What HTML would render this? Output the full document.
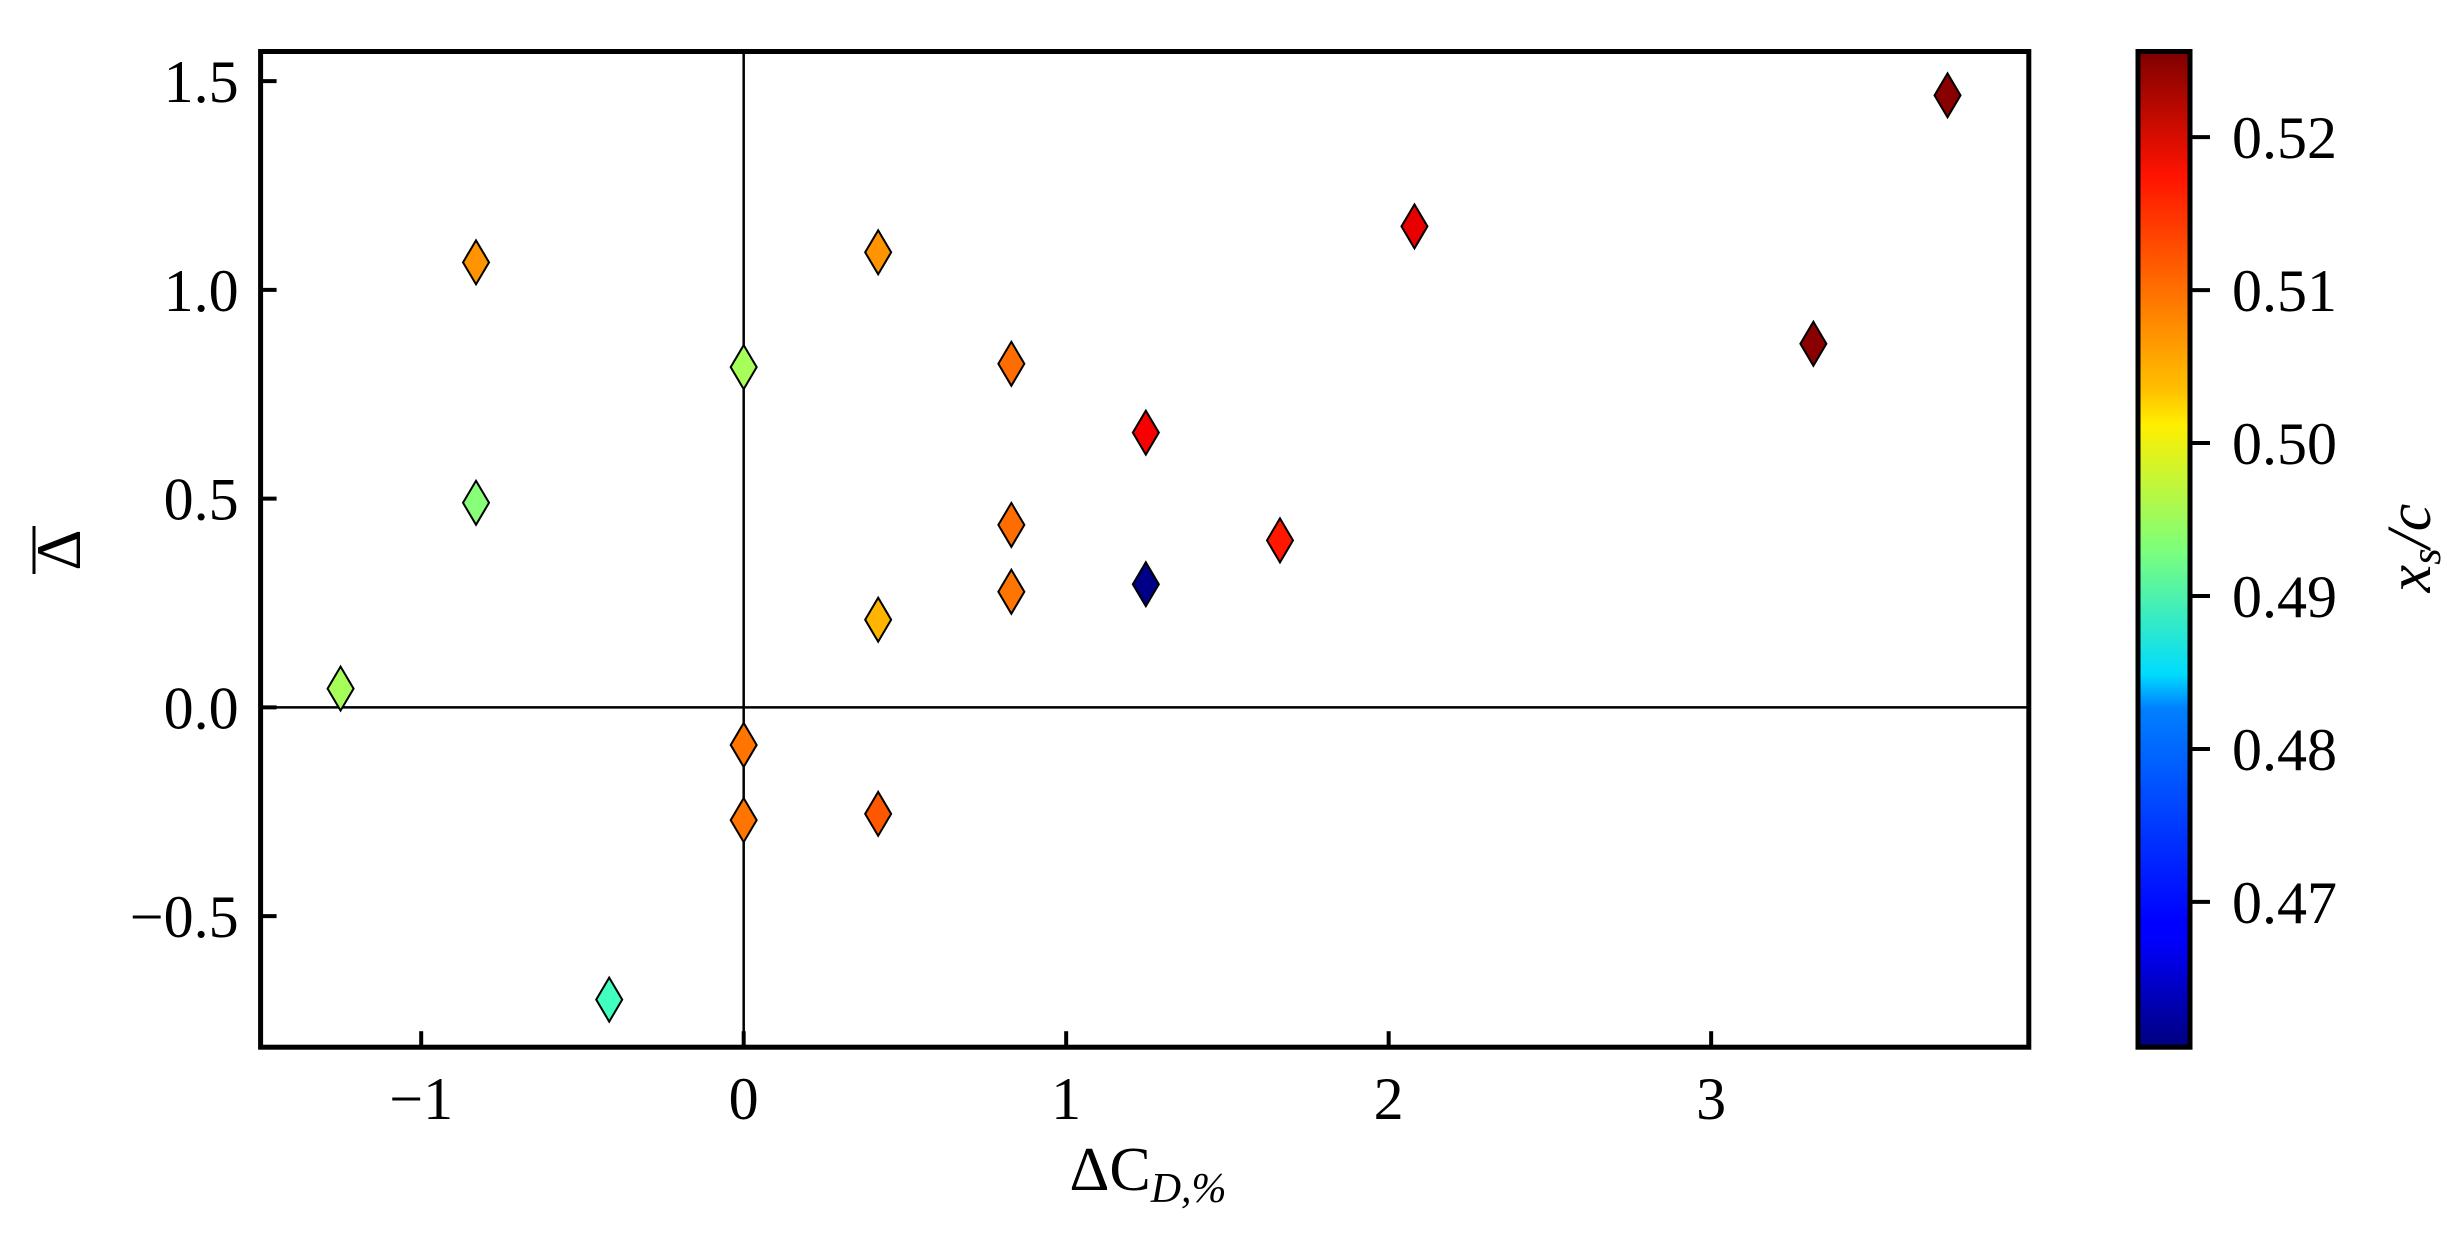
<!DOCTYPE html>
<html><head><meta charset="utf-8"><style>
html,body{margin:0;padding:0;background:#fff;}
svg text{font-family:"Liberation Serif","DejaVu Serif",serif;fill:#000;}
</style></head><body>
<svg id="chart" width="2447" height="1233" viewBox="0 0 2447 1233" xmlns="http://www.w3.org/2000/svg">
<defs>
<linearGradient id="jet" x1="0" y1="1" x2="0" y2="0">
<stop offset="0" stop-color="#00007f"/><stop offset="0.11" stop-color="#0000ff"/><stop offset="0.125" stop-color="#0000ff"/>
<stop offset="0.34" stop-color="#0080ff"/><stop offset="0.375" stop-color="#00dcfe"/><stop offset="0.5" stop-color="#7dff7a"/>
<stop offset="0.625" stop-color="#ffef00"/><stop offset="0.66" stop-color="#ffc000"/><stop offset="0.875" stop-color="#ff1300"/>
<stop offset="1" stop-color="#7f0000"/></linearGradient>
</defs>
<g id="plot"></g>
<g id="cbar"></g>
</svg>
<script>
const xVals=[-1.25,-0.83,-0.83,-0.417,0,0,0,0.417,0.417,0.417,0.83,0.83,0.83,1.247,1.247,1.663,2.08,3.317,3.733];
const yVals=[0.045,1.066,0.49,-0.70,0.815,-0.09,-0.27,1.09,0.21,-0.255,0.823,0.437,0.277,0.295,0.658,0.40,1.152,0.871,1.466];
const cVals=[0.4955,0.508,0.4935,0.489,0.4955,0.510,0.510,0.508,0.506,0.512,0.5105,0.5105,0.510,0.461,0.518,0.516,0.519,0.525,0.525];
const xTicks=[-1,0,1,2,3];
const xTickLabels=["\u22121","0","1","2","3"];
const yTicks=[-0.5,0,0.5,1.0,1.5];
const yTickLabels=["\u22120.5","0.0","0.5","1.0","1.5"];
const cTicks=[0.47,0.48,0.49,0.50,0.51,0.52];
const cTickLabels=["0.47","0.48","0.49","0.50","0.51","0.52"];

const NS="http://www.w3.org/2000/svg";
const L=260.6,R=2028.8,T=51.5,B=1047.2;
const xMin=-1.498,xMax=3.985,yMin=-0.814,yMax=1.571;
const cMin=0.4605,cMax=0.5256;
const CL=2138,CR=2190;
const sx=v=>L+(v-xMin)/(xMax-xMin)*(R-L);
const sy=v=>B-(v-yMin)/(yMax-yMin)*(B-T);
const sc=v=>B-(v-cMin)/(cMax-cMin)*(B-T);
function jet(t){t=Math.max(0,Math.min(1,t));
 const f=x=>Math.max(0,Math.min(1,x));
 const r=f(Math.min(4*t-1.5,-4*t+4.5)),g=f(Math.min(4*t-0.5,-4*t+3.5)),b=f(Math.min(4*t+0.5,-4*t+2.5));
 return `rgb(${Math.round(r*255)},${Math.round(g*255)},${Math.round(b*255)})`;}
function mk(tag,attrs,parent,txt){const e=document.createElementNS(NS,tag);for(const k in attrs)e.setAttribute(k,attrs[k]);if(txt!==undefined)e.textContent=txt;parent.appendChild(e);return e;}
const P=document.getElementById('plot'),C=document.getElementById('cbar');

let zl=mk('line',{x1:sx(0),x2:sx(0),y1:T,y2:B,stroke:'#000','stroke-width':2.5},P);


let zh=mk('line',{x1:L,x2:R,y1:sy(0),y2:sy(0),stroke:'#000','stroke-width':2.5},P);



for(let i=0;i<xVals.length;i++){
 const x=sx(xVals[i]),y=sy(yVals[i]),w=13,h=22;
 const p=mk('polygon',{points:`${x},${y-h} ${x+w},${y} ${x},${y+h} ${x-w},${y}`,fill:jet((cVals[i]-cMin)/(cMax-cMin)),stroke:'#000','stroke-width':2},P);
 
 
}

let fr=mk('rect',{x:L,y:T,width:R-L,height:B-T,fill:'none',stroke:'#000','stroke-width':5},P);



xTicks.forEach((v,i)=>{const x=sx(v);
 const t=mk('line',{x1:x,x2:x,y1:B,y2:B-16,stroke:'#000','stroke-width':4},P);
 
 
 const l=mk('text',{x:x,y:B+72,'text-anchor':'middle','font-size':60},P,xTickLabels[i]);
 
 
});
yTicks.forEach((v,i)=>{const y=sy(v);
 const t=mk('line',{x1:L,x2:L+16,y1:y,y2:y,stroke:'#000','stroke-width':4},P);
 
 
 const l=mk('text',{x:L-22,y:y+21,'text-anchor':'end','font-size':60},P,yTickLabels[i]);
 
 
});

let xl=mk('text',{x:1148,y:1190,'text-anchor':'middle','font-size':62},P);


xl.innerHTML='ΔC<tspan font-style="italic" font-size="42" dy="12">D,%</tspan>';
let yl=mk('text',{x:0,y:0,'text-anchor':'middle','font-size':64,transform:'translate(80,550) rotate(-90)'},P,'Δ');


let ov=mk('line',{x1:34,x2:34,y1:526,y2:574,stroke:'#000','stroke-width':3},P);



let cb=mk('rect',{x:CL,y:T,width:CR-CL,height:B-T,fill:'url(#jet)',stroke:'#000','stroke-width':5},C);


cTicks.forEach((v,i)=>{const y=sc(v);
 const t=mk('line',{x1:CR,x2:CR+20,y1:y,y2:y,stroke:'#000','stroke-width':4},C);
 
 
 const l=mk('text',{x:CR+42,y:y+21,'font-size':60},C,cTickLabels[i]);
 
 
});
let cl=mk('text',{x:0,y:0,'text-anchor':'middle','font-size':62,'font-style':'italic',transform:'translate(2430,548) rotate(-90)'},C);


cl.innerHTML='x<tspan font-size="42" dy="10">s</tspan><tspan dy="-10">/c</tspan>';
</script>
</body></html>
